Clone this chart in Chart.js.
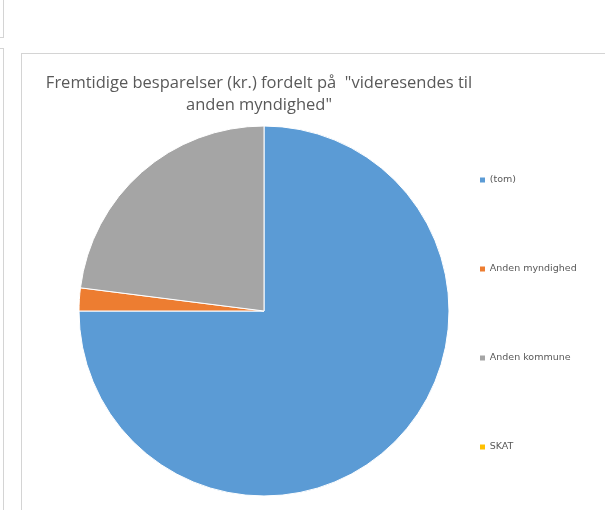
<!DOCTYPE html>
<html>
<head>
<meta charset="utf-8">
<script src="https://cdn.jsdelivr.net/npm/chart.js@4/dist/chart.umd.min.js"></script>
<style>
  html, body { margin: 0; padding: 0; background: #ffffff; overflow: hidden; width: 613px; height: 510px; }
  .frame { position: absolute; border: 1px solid #d4d4d4; box-sizing: border-box; }
  #wrap { position: absolute; left: -61px; top: 0; width: 640px; height: 510px; }
</style>
</head>
<body>
<div class="frame" style="left:-10px; top:-10px; width:14px; height:48px;"></div>
<div class="frame" style="left:-10px; top:48px; width:14px; height:500px;"></div>
<div class="frame" style="left:21px; top:53px; width:584px; height:500px; border-right:none;"></div>
<div id="wrap"><canvas id="c" width="640" height="510"></canvas></div>
<script>
// ---- data ----
const categories = ['(tom)', 'Anden myndighed', 'Anden kommune', 'SKAT'];
const values = [75, 2, 23, 0];
const sliceColors = ['#5B9BD5', '#ED7D31', '#A5A5A5', '#FFC000'];
const titleLines = ['Fremtidige besparelser (kr.) fordelt på  "videresendes til', 'anden myndighed"'];

const textColor = '#595959';

new Chart(document.getElementById('c'), {
  type: 'pie',
  data: {
    labels: categories,
    datasets: [{
      data: values,
      backgroundColor: sliceColors,
      borderColor: '#ffffff',
      borderWidth: 1,
      radius: 185
    }]
  },
  options: {
    responsive: false,
    animation: false,
    devicePixelRatio: 1,
    layout: { padding: 0 },
    plugins: {
      title: {
        display: true,
        text: titleLines,
        color: textColor,
        font: { family: 'Open Sans', size: 16.5, weight: 'normal', lineHeight: '22px' },
        padding: { top: 72.5, bottom: -4.5 }
      },
      subtitle: {
        display: true,
        position: 'left',
        fullSize: false,
        text: '',
        font: { size: 10, lineHeight: 1 },
        padding: { top: 65, bottom: 65 }
      },
      legend: {
        position: 'right',
        align: 'start',
        fullSize: false,
        maxWidth: 130,
        title: {
          display: true,
          text: '',
          font: { size: 10, lineHeight: 1 },
          padding: { top: 22.25, bottom: 0 }
        },
        labels: {
          boxWidth: 5,
          boxHeight: 5,
          padding: 31,
          color: textColor,
          font: { family: 'DejaVu Sans', size: 9.5, lineHeight: '58px' },
          generateLabels: function (chart) {
            const base = Chart.overrides.pie.plugins.legend.labels.generateLabels(chart);
            return base.map(function (item, i) {
              item.lineWidth = 0;
              item.fontColor = textColor;
              if (i < base.length - 1) item.text = [item.text];
              return item;
            });
          }
        }
      },
      tooltip: { enabled: false }
    }
  }
});
</script>
</body>
</html>
